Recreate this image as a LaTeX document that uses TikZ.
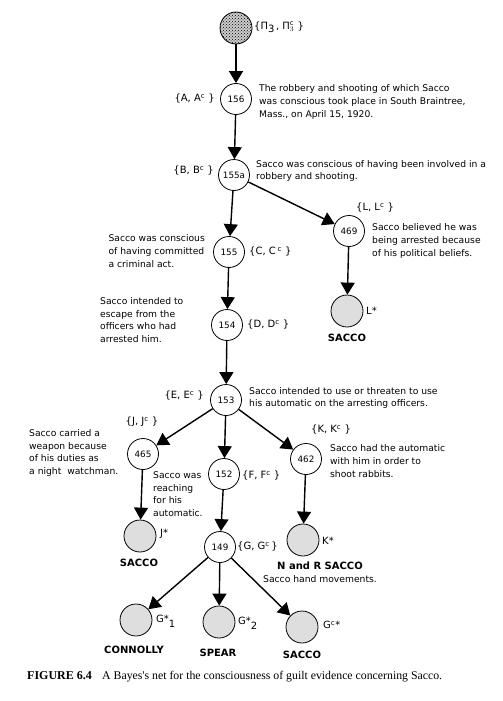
\documentclass[tikz,border=0pt]{standalone}
\usepackage{fontspec}
\setmainfont{DejaVu Sans}
\newfontfamily\capfont{Liberation Serif}
\usetikzlibrary{arrows.meta,patterns}
\def\cc{\textsuperscript{c}}

\begin{document}
\begin{tikzpicture}[x=1pt,y=-1pt,
  nd/.style={draw,thick,circle,fill=white,minimum size=31pt,inner sep=0pt,font=\fontsize{8.8}{10}\selectfont},
  ev/.style={draw,thick,circle,fill=black!13,minimum size=32pt,inner sep=0pt},
  lnk/.style={line width=1.4pt,-{Triangle[width=14pt,length=12pt]}},
  txt/.style={align=left,font=\fontsize{9.2}{12.6}\selectfont,inner sep=0pt},
  st/.style={font=\fontsize{10}{11}\selectfont,inner sep=0pt},
  who/.style={font=\bfseries\fontsize{10}{11}\selectfont,inner sep=0pt}]
  \useasboundingbox (0,0) rectangle (503,701);

  \node[draw,thick,circle,minimum size=32pt,preaction={fill=black!20},pattern=crosshatch dots] (pi) at (236,28) {};
  \node[st,anchor=west] (pilab) at (254,27) {\{Π\raisebox{-3pt}{3}\,, Π$^{\mathrm{c}}_{3}$\ \}};

  \node[nd] (n156) at (236,99) {156};
  \node[st,anchor=east] (lab156) at (215,99) {\{A, A\cc\ \}};
  \node[txt,anchor=west] (t156) at (259,102) {The robbery and shooting of which Sacco\\was conscious took place in South Braintree,\\Mass., on April 15, 1920.};

  \node[nd] (n155a) at (234,175) {155a};
  \node[st,anchor=east] (lab155a) at (214,171) {\{B, B\cc\ \}};
  \node[txt,anchor=west] (t155a) at (256,171) {Sacco was conscious of having been involved in a\\robbery and shooting.};

  \node[nd] (n469) at (349,231) {469};
  \node[st,anchor=west] (lab469) at (356,208) {\{L, L\cc\ \}};
  \node[txt,anchor=west] (t469) at (372,241) {Sacco believed he was\\being arrested because\\of his political beliefs.};
  \node[ev] (lstar) at (347,311) {};
  \node[st,anchor=west] at (366,311) {L*};
  \node[who] at (347,338) {SACCO};

  \node[nd] (n155) at (229,252) {155};
  \node[st,anchor=west] (lab155) at (249,252) {\{C, C\,\cc\ \}};
  \node[txt,anchor=east] (t155) at (205,251) {Sacco was conscious\\of having committed\\a criminal act.};

  \node[nd] (n154) at (227,325) {154};
  \node[st,anchor=west] (lab154) at (247,325) {\{D, D\cc\ \}};
  \node[txt,anchor=west] (t154) at (100,320) {Sacco intended to\\escape from the\\officers who had\\arrested him.};

  \node[nd] (n153) at (226,400) {153};
  \node[st,anchor=east] (lab153) at (204,396) {\{E, E\cc\ \}};
  \node[txt,anchor=west] (t153) at (249,398) {Sacco intended to use or threaten to use\\his automatic on the arresting officers.};

  \node[nd] (n465) at (143,454) {465};
  \node[st] (lab465) at (142,422) {\{J, J\cc\ \}};
  \node[txt,anchor=west] (t465) at (29,453) {Sacco carried a\\weapon because\\of his duties as\\a night\ \ watchman.};

  \node[nd] (n152) at (224,474) {152};
  \node[st,anchor=west] (lab152) at (242,476) {\{F, F\cc\ \}};
  \node[txt,anchor=west] (t152) at (153,494) {Sacco was\\reaching\\for his\\automatic.};

  \node[nd] (n462) at (306,459) {462};
  \node[st] (lab462) at (331,430) {\{K, K\cc\ \}};
  \node[txt,anchor=west] (t462) at (330,461) {Sacco had the automatic\\with him in order to\\shoot rabbits.};

  \node[ev] (jstar) at (140,536) {};
  \node[st,anchor=west] at (160,534) {J*};
  \node[who] at (139,563) {SACCO};

  \node[nd] (n149) at (220,547) {149};
  \node[st,anchor=west] (lab149) at (237,547) {\{G, G\cc\,\}};

  \node[ev] (kstar) at (303,540) {};
  \node[st,anchor=west] at (322,541) {K*};
  \node[who] at (320,566) {N and R SACCO};
  \node[txt] at (320,579) {Sacco hand movements.};

  \node[ev] (g1) at (136,620) {};
  \node[st,anchor=west] at (156,621) {G*\raisebox{-5pt}{1}};
  \node[who] at (134,650) {CONNOLLY};
  \node[ev] (g2) at (219,622) {};
  \node[st,anchor=west] at (238,623) {G*\raisebox{-5pt}{2}};
  \node[who] at (218,653) {SPEAR};
  \node[ev] (g3) at (302,627) {};
  \node[st,anchor=west] at (323,625) {G\cc*};
  \node[who] at (302,655) {SACCO};

  \draw[lnk] (pi) -- (n156);
  \draw[lnk] (n156) -- (n155a);
  \draw[lnk] (n155a) -- (n155);
  \draw[lnk] (n155a) -- (n469);
  \draw[lnk] (n469) -- (lstar);
  \draw[lnk] (n155) -- (n154);
  \draw[lnk] (n154) -- (n153);
  \draw[lnk] (n153) -- (n465);
  \draw[lnk] (n153) -- (n152);
  \draw[lnk] (n153) -- (n462);
  \draw[lnk] (n465) -- (jstar);
  \draw[lnk] (n152) -- (n149);
  \draw[lnk] (n462) -- (kstar);
  \draw[lnk] (n149) -- (g1);
  \draw[lnk] (n149) -- (g2);
  \draw[lnk] (n149) -- (g3);

  % caption
  \node[anchor=west,inner sep=0pt,font=\capfont\bfseries\fontsize{12}{13}\selectfont] (capnum) at (27,676) {FIGURE 6.4};
  \node[anchor=west,inner sep=0pt,font=\capfont\fontsize{11.8}{13}\selectfont] (captext) at (102,677) {A Bayes's net for the consciousness of guilt evidence concerning Sacco.};
\end{tikzpicture}
\end{document}
